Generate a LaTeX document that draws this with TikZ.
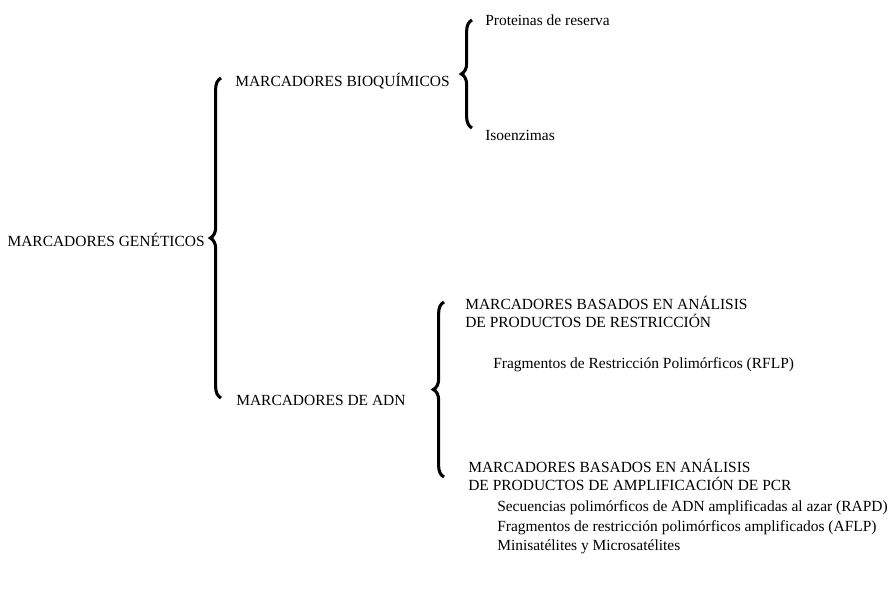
\documentclass[tikz,border=0pt]{standalone}
\usepackage{fontspec}
\setmainfont{Liberation Serif}
\usepackage{tikz}
\usetikzlibrary{decorations.pathreplacing}
\tikzset{
  tit/.style = {font=\fontsize{11.6}{13.6}\selectfont, inner sep=0pt, align=left},
  item/.style = {font=\fontsize{11.6}{13.6}\selectfont, inner sep=0pt, anchor=west},
  llave/.style = {decorate, decoration={brace, amplitude=8pt, aspect=0.5}, line width=2.3pt},
}

\begin{document}
\begin{tikzpicture}[x=0.75pt,y=0.75pt]
  \useasboundingbox (0,0) rectangle (888,-590);

  % first level
  \node[tit, anchor=east] (gen) at (205,-240) {MARCADORES GENÉTICOS};
  \node[tit, anchor=west] (bio) at (235,-81) {MARCADORES BIOQUÍMICOS};
  \node[tit, anchor=west] (adn) at (236,-400) {MARCADORES DE ADN};

  % bioquimicos
  \node[item] (prot) at (485,-20) {Proteinas de reserva};
  \node[item] (iso) at (485,-135) {Isoenzimas};

  % ADN
  \node[tit, anchor=north west] (rest) at (465,-296)
    {MARCADORES BASADOS EN ANÁLISIS\\DE PRODUCTOS DE RESTRICCIÓN};
  \node[item] (rflp) at (493,-365) {Fragmentos de Restricción Polimórficos (RFLP)};
  \node[tit, anchor=north west] (ampl) at (468,-459)
    {MARCADORES BASADOS EN ANÁLISIS\\DE PRODUCTOS DE AMPLIFICACIÓN DE PCR};
  \foreach \n/\y/\t in {
    rapd/508/Secuencias polimórficos de ADN amplificadas al azar (RAPD),
    aflp/528/Fragmentos de restricción polimórficos amplificados (AFLP),
    mini/547/Minisatélites y Microsatélites
  }{
    \node[item] (\n) at (497,-\y) {\t};
  }

  % llaves
  \coordinate (g1) at (221,-398);
  \coordinate (g2) at (221,-78);
  \coordinate (b1) at (472,-128);
  \coordinate (b2) at (472,-20);
  \coordinate (a1) at (444,-477);
  \coordinate (a2) at (444,-302);
  \draw[llave] (g1) -- (g2);
  \draw[llave] (b1) -- (b2);
  \draw[llave] (a1) -- (a2);
\end{tikzpicture}
\end{document}
